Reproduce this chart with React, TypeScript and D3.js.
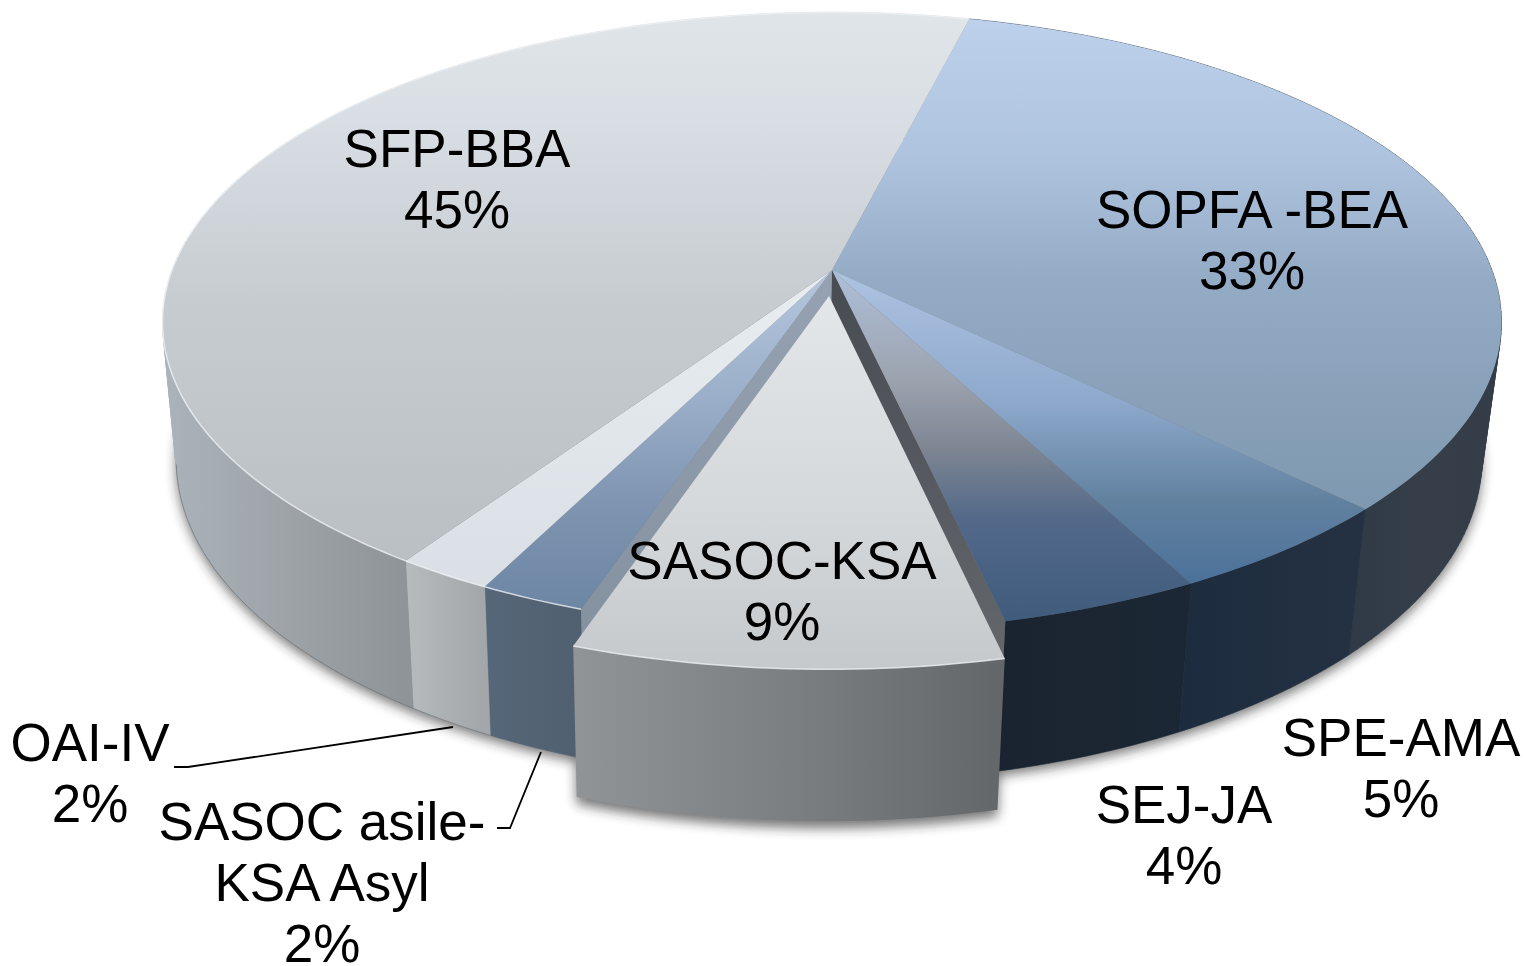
import React from "react";
import * as d3 from "d3";

const WIDTH = 1529;
const HEIGHT = 966;

// data (estimated from the slice edges, the labels round them)
const sliceNames = ["SOPFA -BEA", "SPE-AMA", "SEJ-JA", "SASOC-KSA", "SASOC asile-KSA Asyl", "OAI-IV", "SFP-BBA"];
const sliceShares = [33.47, 4.97, 4.14, 8.7, 2.2, 2, 44.5];
const explodedName = "SASOC-KSA";

// label lines and where they sit
const labelLines = [
  ["SOPFA -BEA", "33%"],
  ["SPE-AMA", "5%"],
  ["SEJ-JA", "4%"],
  ["SASOC-KSA", "9%"],
  ["SASOC asile-", "KSA Asyl", "2%"],
  ["OAI-IV", "2%"],
  ["SFP-BBA", "45%"],
];
const labelAnchors = [[1252, 228], [1401, 756], [1184, 823], [782, 579], [322, 840], [90, 761], [457, 167]];
const leaderLines = [
  [[174, 767], [188, 767], [453, 727]],
  [[497, 828], [510, 828], [541, 752]],
];

// colours: [y, colour] down the top face, [x, colour] across the wall
const faceStops = [
  [[15, "#bdd1ec"], [150, "#afc4df"], [280, "#94abc6"], [400, "#88a1b9"], [515, "#7d98b0"]],
  [[270, "#aec3e2"], [400, "#8ea9cc"], [500, "#62819f"], [590, "#4a7099"]],
  [[270, "#aebfd8"], [380, "#9ca3af"], [450, "#7d8592"], [520, "#52698a"], [630, "#3e5a7a"]],
  [[290, "#e3e7e9"], [500, "#d6d9dc"], [670, "#c6c9cc"]],
  [[270, "#b6c7de"], [400, "#9aaec9"], [500, "#7f95b1"], [610, "#6c86a4"]],
  [[270, "#e8edf1"], [570, "#dae0e5"]],
  [[12, "#e0e5e8"], [120, "#d8dee3"], [300, "#c7ccd1"], [500, "#bcc2c6"], [570, "#b9bfc3"]],
];
const wallStops = [
  [[1346, "#2f3a46"], [1420, "#353e49"], [1502, "#333c47"]],
  [[1180, "#1c2c3e"], [1346, "#243142"]],
  [[1000, "#1a2430"], [1100, "#1b2632"], [1190, "#1b2735"]],
  [[575, "#909497"], [800, "#7a7e80"], [1002, "#646769"]],
  [[483, "#566779"], [590, "#4f5f6f"]],
  [[405, "#b6bbbe"], [483, "#a4a7aa"]],
  [[163, "#abb3bb"], [300, "#9ca1a5"], [405, "#8e9498"]],
];

// perspective of the pie disc, fitted to the picture
const apexX = 832;
const apexY = 270;
const scaleX = 660;
const scaleY = 301;
const tilt = 0.168;
const explode = 0.085;
const rad = Math.PI / 180;

type Pt = [number, number];

function topPoint(theta: number, ox = 0, oy = 0): Pt {
  const X = Math.sin(theta) + ox;
  const Y = -Math.cos(theta) + oy;
  const w = 1 - tilt * Y;
  return [apexX + (scaleX * X) / w, apexY + (scaleY * Y) / w];
}
function centerPoint(ox = 0, oy = 0): Pt {
  const w = 1 - tilt * oy;
  return [apexX + (scaleX * ox) / w, apexY + (scaleY * oy) / w];
}
// lower disc is the upper one a bit narrower and further down
function lower([x, y]: Pt): Pt {
  return [829 + 0.975 * (x - 832), 460 + 1.04 * (y - 322)];
}
function sweep(a0: number, a1: number) {
  const n = Math.max(2, Math.ceil(Math.abs(a1 - a0) / rad));
  return d3.range(n + 1).map((i) => a0 + ((a1 - a0) * i) / n);
}

const closed = d3.line<Pt>().curve(d3.curveLinearClosed);
const open = d3.line<Pt>();

// wall as one path of small quads, so the silhouette at the far left and right stays filled.
// every quad gets the same winding or the overlaps cancel out
function wallPath(rim: Pt[], base: Pt[]) {
  return d3
    .range(rim.length - 1)
    .map((i) => {
      const quad: Pt[] = [rim[i], rim[i + 1], base[i + 1], base[i]];
      if (d3.polygonArea(quad) < 0) quad.reverse();
      return closed(quad) || "";
    })
    .join("");
}

const arcs = d3
  .pie<number>()
  .sort(null)
  .value((d) => d)
  .startAngle(14 * rad)
  .endAngle(374 * rad)(sliceShares);

const slices = arcs.map((a, i) => {
  const isOut = sliceNames[i] === explodedName;
  const mid = (a.startAngle + a.endAngle) / 2;
  const ox = isOut ? explode * Math.sin(mid) : 0;
  const oy = isOut ? -explode * Math.cos(mid) : 0;
  const rim = sweep(a.startAngle, a.endAngle).map((t) => topPoint(t, ox, oy));
  const base = rim.map(lower);
  const apex = centerPoint(ox, oy);
  return { i, rim, base, apex, isOut, face: [apex, ...rim] as Pt[], wall: wallPath(rim, base), outline: [...rim, ...base.slice().reverse()] as Pt[] };
});

const bottomDisc = sweep(0, 360 * rad).map((t) => lower(topPoint(t)));
const outSlice = slices.find((s) => s.isOut)!;
const restSlices = slices.filter((s) => !s.isOut);
const neighbourRight = slices[outSlice.i - 1];
const neighbourLeft = slices[outSlice.i + 1];

function cutWall(p: Pt): Pt[] {
  return [centerPoint(), p, lower(p), lower(centerPoint())];
}
const rightCut = cutWall(neighbourRight.rim[neighbourRight.rim.length - 1]);
const leftCut = cutWall(neighbourLeft.rim[0]);

export default function App() {
  const faceDomain = [12, 670];
  const wallDomain = [160, 1505];
  const fy = d3.scaleLinear().domain(faceDomain).range([0, 1]);
  const fx = d3.scaleLinear().domain(wallDomain).range([0, 1]);
  return (
    <svg
      width={WIDTH}
      height={HEIGHT}
      viewBox={`0 0 ${WIDTH} ${HEIGHT}`}
      style={{ position: "absolute", left: 0, top: 0, display: "block", background: "#fff" }}
    >
      <defs>
        <filter id="soft" x="-10%" y="-10%" width="120%" height="120%">
          <feGaussianBlur stdDeviation="6" />
        </filter>
        {faceStops.map((stops, i) => (
          <linearGradient key={i} id={`face${i}`} gradientUnits="userSpaceOnUse" x1="0" x2="0" y1={faceDomain[0]} y2={faceDomain[1]}>
            {stops.map(([y, c], k) => (
              <stop key={k} offset={fy(y as number)} stopColor={c as string} />
            ))}
          </linearGradient>
        ))}
        {wallStops.map((stops, i) => (
          <linearGradient key={i} id={`wall${i}`} gradientUnits="userSpaceOnUse" x1={wallDomain[0]} x2={wallDomain[1]} y1="0" y2="0">
            {stops.map(([x, c], k) => (
              <stop key={k} offset={fx(x as number)} stopColor={c as string} />
            ))}
          </linearGradient>
        ))}
        <linearGradient id="cutRight" gradientUnits="userSpaceOnUse" x1="0" x2="0" y1="270" y2="640">
          <stop offset="0" stopColor="#474b52" />
          <stop offset="1" stopColor="#62666b" />
        </linearGradient>
        <linearGradient id="cutLeft" gradientUnits="userSpaceOnUse" x1="0" x2="0" y1="270" y2="640">
          <stop offset="0" stopColor="#96a2b2" />
          <stop offset="1" stopColor="#84919f" />
        </linearGradient>
      </defs>

      {/* shadows under the pie */}
      <g filter="url(#soft)" opacity={0.6}>
        <path d={closed(bottomDisc.map(([x, y]) => [x, y + 5] as Pt)) || ""} fill="#222" />
        <path d={closed(outSlice.outline.map(([x, y]) => [x, y + 7] as Pt)) || ""} fill="#222" />
      </g>

      {/* outer walls, then the cut faces next to the pulled slice */}
      {restSlices.map((s) => (
        <path key={s.i} d={s.wall} fill={`url(#wall${s.i})`} stroke={`url(#wall${s.i})`} strokeWidth={0.5} />
      ))}
      {restSlices
        .filter((s) => s.i >= 5)
        .map((s) => (
          <path key={s.i} d={open(s.base.filter((p) => p[1] > 460)) || ""} fill="none" stroke="#6d7276" strokeWidth={0.7} />
        ))}
      <path d={closed(rightCut) || ""} fill="url(#cutRight)" />
      <path d={closed(leftCut) || ""} fill="url(#cutLeft)" />

      {/* top faces */}
      {restSlices.map((s) => (
        <path key={s.i} d={closed(s.face) || ""} fill={`url(#face${s.i})`} />
      ))}
      {/* rim highlight on the grey side */}
      {restSlices
        .filter((s) => s.i >= 4)
        .map((s) => (
          <path key={s.i} d={open(s.rim) || ""} fill="none" stroke="#f4f7f9" strokeWidth={1.5} opacity={0.75} />
        ))}

      {/* pulled slice */}
      <path d={closed(outSlice.outline) || ""} fill={`url(#wall${outSlice.i})`} />
      <path d={closed(outSlice.face) || ""} fill={`url(#face${outSlice.i})`} />
      <path d={open(outSlice.rim) || ""} fill="none" stroke="#eef0f2" strokeWidth={1.5} opacity={0.8} />

      {leaderLines.map((pts, i) => (
        <path key={i} d={open(pts as Pt[]) || ""} fill="none" stroke="#000" strokeWidth={1.8} />
      ))}

      <g fontFamily="'Liberation Sans', Arial, sans-serif" fontSize={53} fill="#000" textAnchor="middle">
        {labelLines.map((lines, i) => (
          <text key={i} x={labelAnchors[i][0]} y={labelAnchors[i][1]}>
            {lines.map((line, k) => (
              <tspan key={k} x={labelAnchors[i][0]} dy={k === 0 ? 0 : 61}>
                {line}
              </tspan>
            ))}
          </text>
        ))}
      </g>
    </svg>
  );
}
